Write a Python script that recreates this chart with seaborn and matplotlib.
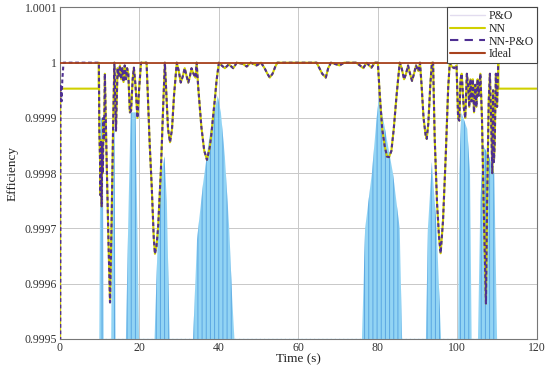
import numpy as np
import matplotlib
matplotlib.use("Agg")
import matplotlib.pyplot as plt
from matplotlib.lines import Line2D
import seaborn as sns

# ---------------- data ----------------
# NN-P&O efficiency trace
nnpo_t = [0.0, 0.15, 0.4, 0.6, 0.9, 9.8,
          9.9, 10.1, 10.2, 10.35, 10.5, 10.65, 10.8, 10.95, 11.1, 11.3,
          11.7, 12.2, 12.6, 13.0, 13.4, 13.7, 14.1, 14.5,
          14.8, 15.1, 15.4, 15.7, 16.0, 16.3, 16.6, 16.9,
          17.2, 17.6, 17.9, 18.3, 18.6, 19.0, 19.5, 19.9, 20.4, 21.8,
          22.2, 22.6, 23.1, 23.6, 23.9, 24.3, 24.7, 25.4, 26.0, 26.4,
          26.8, 27.2, 27.7, 28.2, 28.7, 29.4,
          29.9, 30.4, 30.9, 31.4, 31.9, 32.3, 32.7, 33.1, 33.6, 34.1, 34.4,
          34.8, 35.2, 35.6, 36.3, 37.0, 37.7, 38.1, 38.5, 39.0, 39.4, 40.0,
          40.7, 41.5, 42.5, 43.6, 44.5, 46.0, 47.0, 48.0, 49.5, 50.6,
          51.5, 52.2, 52.8, 53.5, 54.2, 54.7, 64.6,
          65.3, 66.0, 66.9, 67.5, 68.2, 69.5, 70.4, 71.5, 74.5,
          75.5, 76.3, 77.2, 77.8, 78.4, 79.2, 80.0,
          80.5, 81.1, 81.7, 82.3, 82.8, 83.4, 84.0, 84.7, 85.5,
          86.0, 86.6, 87.1, 87.6, 88.1, 88.6, 89.1, 89.6, 90.2, 90.6,
          91.0, 91.5, 92.0, 92.3, 92.7, 93.2, 93.6, 93.9,
          94.3, 94.9, 95.4, 95.8, 96.4, 97.1, 97.7, 98.1,
          98.6, 99.2, 99.8, 100.2, 100.5, 100.8, 101.1, 101.6, 102.0,
          102.4, 102.7, 103.0, 103.3, 103.6, 103.9, 104.2, 104.5, 104.8,
          105.1, 105.4, 105.8, 106.2, 106.6, 107.0, 107.2, 107.5, 107.9,
          108.2, 108.5, 108.8, 109.0, 109.2, 109.4, 109.7, 110.0, 110.3, 120.0]
nnpo_eff = [0.99900, 0.999960, 0.999930, 0.999970, 1.0, 1.0,
            0.99988, 0.99982, 0.99976, 0.99986, 0.99974, 0.99985, 0.99980, 0.99990, 0.99986, 0.99998,
            0.99984, 0.99968, 0.999566, 0.999714, 0.999895, 1.0, 0.999877, 0.99999,
            0.999975, 0.999995, 0.99997, 0.99999, 0.999965, 0.999995, 0.99997, 0.99999,
            0.99998, 0.99991, 0.999913, 0.99997, 0.999991, 0.99996, 0.99990, 0.99995, 1.0, 1.0,
            0.999926, 0.999850, 0.999775, 0.999684, 0.999654, 0.999668, 0.999702, 0.999805, 0.999926, 1.0,
            0.99994, 0.99988, 0.999856, 0.99988, 0.99994, 1.0,
            0.999985, 0.999964, 0.999975, 0.99999, 0.999975, 0.999964, 0.999975, 0.99999, 0.99998, 0.999973, 1.0,
            0.999955, 0.999920, 0.999883, 0.999841, 0.999824, 0.999847, 0.999870, 0.99990, 0.999935, 0.999967, 1.0,
            0.999995, 0.99999, 0.999997, 0.99999, 1.0, 0.999998, 0.999993, 1.0, 0.999995, 1.0,
            0.99999, 0.99998, 0.999973, 0.99998, 0.999993, 1.0, 1.0,
            0.99999, 0.99998, 0.999973, 0.99999, 1.0, 0.999997, 0.999995, 1.0, 1.0,
            0.999995, 0.99999, 1.0, 0.999995, 0.999991, 1.0, 1.0,
            0.99994, 0.99988, 0.99985, 0.99983, 0.999829, 0.99984, 0.99988, 0.99994, 1.0,
            0.99999, 0.99997, 0.99998, 0.999995, 0.99998, 0.999967, 0.99998, 0.999995, 0.999985, 1.0,
            0.99996, 0.99990, 0.99987, 0.999862, 0.99989, 0.99996, 1.0, 1.0,
            0.999865, 0.999745, 0.999684, 0.999655, 0.999714, 0.999835, 0.999955, 1.0,
            0.999993, 0.99999, 0.999995, 0.99990, 0.999895, 0.99997, 0.99998, 0.99992, 0.99990,
            0.99998, 0.99996, 0.99992, 0.99997, 0.99993, 0.99997, 0.99991, 0.99996, 0.99992,
            0.99997, 0.99994, 0.99998, 0.99990, 0.99975, 0.99962, 0.999564, 0.99975, 0.99993,
            0.99998, 0.99990, 0.99980, 0.99995, 0.99982, 0.99985, 0.99998, 0.99992, 1.0, 1.0]

# NN: flat level outside the tracked window, equal to NN-P&O inside it
nn_level = 0.999953
nn_window = (9.8, 110.3)

# P&O: envelope of the rapidly oscillating trace (top of the blue bands)
pno_t = [9.9, 10.2, 10.8, 11.0, 12.9, 13.2, 13.7, 14.0,
         16.6, 17.3, 17.8, 19.0, 19.5, 19.9,
         23.8, 24.8, 25.5, 26.3, 26.9, 27.6,
         33.5, 34.5, 36.0, 37.5, 38.8, 39.7, 40.5, 41.5, 42.6, 43.3, 43.9,
         76.0, 76.8, 78.5, 79.7, 80.3, 81.3, 83.8, 85.5, 86.1,
         92.1, 92.6, 93.6, 94.8, 95.9,
         100.2, 100.5, 101.0, 102.5, 103.2, 103.6,
         105.2, 105.8, 106.5, 108.0, 109.3, 110.0]
pno_top = [0.9995, 0.99990, 0.99990, 0.9995, 0.9995, 0.99988, 0.99988, 0.9995,
           0.9995, 0.99975, 0.99991, 0.99991, 0.99970, 0.9995,
           0.9995, 0.99972, 0.99980, 0.99983, 0.99975, 0.9995,
           0.9995, 0.99968, 0.99978, 0.99986, 0.99991, 0.99994, 0.99991, 0.99983, 0.99970, 0.99958, 0.9995,
           0.9995, 0.99970, 0.99980, 0.99990, 0.99994, 0.99990, 0.99980, 0.99970, 0.9995,
           0.9995, 0.99970, 0.99982, 0.99970, 0.9995,
           0.9995, 0.99980, 0.99991, 0.99988, 0.99980, 0.9995,
           0.9995, 0.99975, 0.99985, 0.99983, 0.99980, 0.9995]

ideal_t = [0, 120]
ideal_eff = [1.0, 1.0]

x_ticks = [0, 20, 40, 60, 80, 100, 120]
y_ticks = [0.9995, 0.9996, 0.9997, 0.9998, 0.9999, 1.0, 1.0001]
y_tick_labels = ["0.9995", "0.9996", "0.9997", "0.9998", "0.9999", "1", "1.0001"]
series_names = ["P&O", "NN", "NN-P&O", "Ideal"]

# ---------------- styling ----------------
sns.set_theme(style="whitegrid")
plt.rcParams["font.family"] = ["Liberation Serif", "DejaVu Serif"]
plt.rcParams["hatch.linewidth"] = 0.7

c_pno = "#92d4f4"
c_pno_dark = "#5aa6e2"
c_nn = "#d0d000"
c_nnpo = "#4e2f92"
c_ideal = "#a8421e"

fig = plt.figure(figsize=(5.5, 3.72), dpi=100)
ax = fig.add_axes([0.109, 0.089, 0.867, 0.891])

# NN trace: flat before / after the window, follows NN-P&O inside it
nnpo_t_arr = np.array(nnpo_t)
nnpo_eff_arr = np.array(nnpo_eff)
inside = (nnpo_t_arr >= nn_window[0]) & (nnpo_t_arr <= nn_window[1])
nn_t_arr = np.concatenate([[0.0, 0.05, nn_window[0] - 0.05], nnpo_t_arr[inside],
                           [nn_window[1] + 0.05, 120.0]])
nn_eff_arr = np.concatenate([[nnpo_eff[0], nn_level, nn_level], nnpo_eff_arr[inside],
                             [nn_level, nn_level]])

# P&O bands
ax.fill_between(pno_t, 0.9994, pno_top, facecolor=c_pno, edgecolor=c_pno_dark,
                hatch="||||", linewidth=0.0, zorder=2)

sns.lineplot(x=nn_t_arr, y=nn_eff_arr, ax=ax, color=c_nn, linewidth=1.5,
             sort=False, zorder=3)
sns.lineplot(x=nnpo_t_arr, y=nnpo_eff_arr, ax=ax, color=c_nnpo, linewidth=1.5,
             sort=False, linestyle=(0, (1.8, 1.3)), zorder=4)
sns.lineplot(x=ideal_t, y=ideal_eff, ax=ax, color=c_ideal, linewidth=1.3,
             sort=False, zorder=5)

ax.set_xlim(0, 120)
ax.set_ylim(0.9995, 1.0001)
ax.set_xticks(x_ticks)
ax.set_xticklabels([str(v) for v in x_ticks])
ax.set_yticks(y_ticks)
ax.set_yticklabels(y_tick_labels)
ax.tick_params(axis="both", labelsize=8.5, colors="#333333", direction="in",
               length=3, pad=2)
ax.grid(True, color="#c8c8c8", linewidth=0.7)
for s in ax.spines.values():
    s.set_color("#777777")
    s.set_linewidth(0.8)
ax.set_facecolor("white")
ax.set_xlabel("Time (s)", fontsize=9.5, labelpad=0, color="#222222")
ax.set_ylabel("Efficiency", fontsize=9.5, labelpad=4, color="#222222")

handles = [
    Line2D([], [], color="#e2dcef", linewidth=1.0),
    Line2D([], [], color=c_nn, linewidth=1.5),
    Line2D([], [], color=c_nnpo, linewidth=1.5, linestyle=(0, (4, 3))),
    Line2D([], [], color=c_ideal, linewidth=1.5),
]
leg = ax.legend(handles, series_names, loc="upper right", fontsize=8.5,
                frameon=True, fancybox=False, borderaxespad=0.0,
                handlelength=3.0, handletextpad=0.3, labelspacing=0.05,
                borderpad=0.25)
leg.get_frame().set_edgecolor("#444444")
leg.get_frame().set_linewidth(0.8)
leg.get_frame().set_alpha(1.0)

fig.savefig("out.png", dpi=100)
